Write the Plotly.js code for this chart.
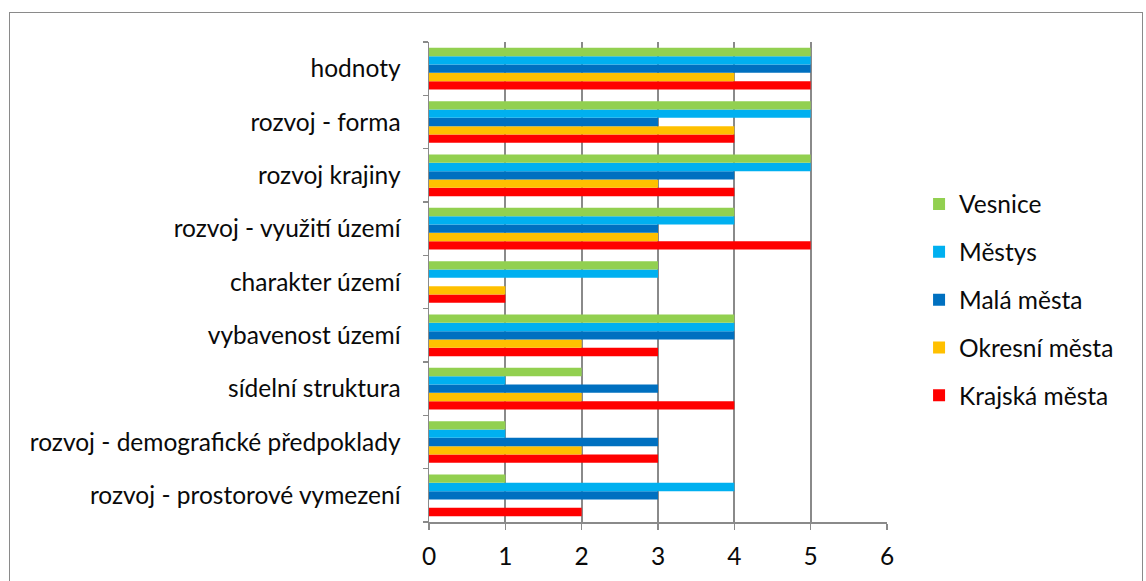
<!DOCTYPE html>
<html><head><meta charset="utf-8">
<script src="https://cdn.plot.ly/plotly-3.0.1.min.js"></script>
<style>
html,body{margin:0;padding:0;background:#fff;}
#chart{width:1146px;height:581px;}
#frame{position:absolute;left:9px;top:12px;width:1132px;height:600px;border:1.5px solid #8a8a8a;pointer-events:none;}
</style></head>
<body>
<div id="chart"></div>
<div id="frame"></div>
<script>
// categories from bottom to top (Plotly category order)
const categories = [
  "rozvoj - prostorové vymezení",
  "rozvoj - demografické předpoklady",
  "sídelní struktura",
  "vybavenost území",
  "charakter území",
  "rozvoj - využití území",
  "rozvoj krajiny",
  "rozvoj - forma",
  "hodnoty"
];
const vesnice      = [1, 1, 2, 4, 3, 4, 5, 5, 5];
const mestys       = [4, 1, 1, 4, 3, 4, 5, 5, 5];
const malaMesta    = [3, 3, 3, 4, 0, 3, 4, 3, 5];
const okresniMesta = [0, 2, 2, 2, 1, 3, 3, 4, 4];
const krajskaMesta = [2, 3, 4, 3, 1, 5, 4, 4, 5];

const seriesNames = ["Krajská města", "Okresní města", "Malá města", "Městys", "Vesnice"];
const seriesValues = [krajskaMesta, okresniMesta, malaMesta, mestys, vesnice];
const seriesColors = ["#FF0000", "#FFC000", "#0070C0", "#00B0F0", "#92D050"];

const traces = seriesNames.map((n, i) => ({
  type: "bar", orientation: "h", name: n,
  x: seriesValues[i], y: categories,
  marker: {color: seriesColors[i]},
  legendgroup: "g" + i,
  legendrank: 1000 - i,
  hoverinfo: "x+y+name"
}));

const font = {family: "Lato, Open Sans, sans-serif", size: 24.5, color: "#0a0a0a"};

const layout = {
  width: 1146, height: 581,
  margin: {l: 429, r: 259, t: 42, b: 59, pad: 0},
  paper_bgcolor: "#fff", plot_bgcolor: "#fff",
  barmode: "group", bargap: 0.22, bargroupgap: 0,
  font: font,
  showlegend: true,
  legend: {
    x: 1.07, xanchor: "left", y: 0.4625, yanchor: "middle",
    traceorder: "grouped", tracegroupgap: 13,
    font: {family: font.family, size: 24.5, color: "#0a0a0a"},
    itemwidth: 30
  },
  xaxis: {
    range: [0, 6], dtick: 1, tick0: 0,
    showgrid: true, gridcolor: "#8a8a8a", gridwidth: 1.8,
    zeroline: false, showline: true, linecolor: "#8a8a8a", linewidth: 1.5,
    ticks: "outside", ticklen: 6, tickcolor: "#8a8a8a", tickwidth: 1.5,
    ticklabelstandoff: 6,
    tickfont: {family: font.family, size: 24.5, color: "#0a0a0a"},
    fixedrange: true
  },
  yaxis: {
    type: "category", categoryorder: "array", categoryarray: categories,
    showgrid: false, zeroline: false,
    showline: true, linecolor: "#8a8a8a", linewidth: 1.5,
    ticks: "outside", ticklen: 5, tickcolor: "#8a8a8a", tickwidth: 1.5,
    tickson: "boundaries",
    ticklabelstandoff: 22,
    tickfont: {family: font.family, size: 24.5, color: "#0a0a0a"},
    fixedrange: true
  }
};

Plotly.newPlot("chart", traces, layout, {displayModeBar: false, staticPlot: true});
</script>
</body></html>
